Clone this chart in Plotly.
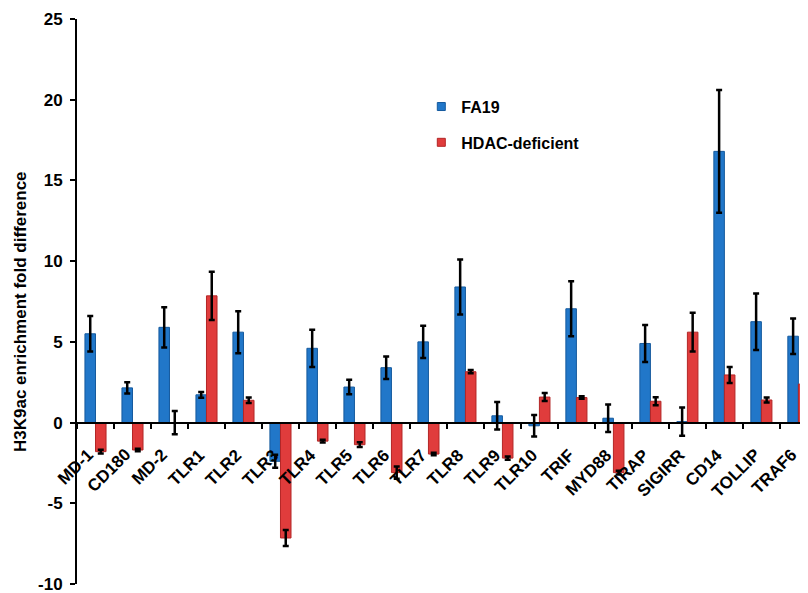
import plotly.graph_objects as go

categories = ["MD-1", "CD180", "MD-2", "TLR1", "TLR2", "TLR3", "TLR4", "TLR5", "TLR6", "TLR7",
              "TLR8", "TLR9", "TLR10", "TRIF", "MYD88", "TIRAP", "SIGIRR", "CD14", "TOLLIP", "TRAF6"]
fa19 = [5.5, 2.15, 5.9, 1.72, 5.6, -2.4, 4.6, 2.2, 3.4, 5.0,
        8.4, 0.42, -0.2, 7.05, 0.27, 4.9, 0.06, 16.8, 6.25, 5.35]
fa19_err = [1.1, 0.35, 1.25, 0.18, 1.3, 0.4, 1.15, 0.45, 0.7, 1.0,
            1.7, 0.85, 0.67, 1.7, 0.85, 1.15, 0.87, 3.8, 1.75, 1.1]
hdac = [-1.8, -1.7, 0.0, 7.85, 1.38, -7.15, -1.15, -1.37, -3.1, -1.95,
        3.15, -2.2, 1.58, 1.55, -3.1, 1.32, 5.6, 2.95, 1.4, 2.38]
hdac_err = [0.12, 0.08, 0.72, 1.5, 0.17, 0.5, 0.08, 0.15, 0.38, 0.08,
            0.1, 0.1, 0.25, 0.08, 0.12, 0.25, 1.2, 0.5, 0.15, 0.4]
series_names = ["FA19", "HDAC-deficient"]
y_ticks = [-10, -5, 0, 5, 10, 15, 20, 25]
y_tick_labels = ["-10", "-5", "0", "5", "10", "15", "20", "25"]
y_range = [-10, 25]
y_title = "H3K9ac enrichment fold difference"

FONT = "Liberation Sans, Arial, sans-serif"
BLUE, BLUE_EDGE = "#2177C9", "#155A9E"
RED, RED_EDGE = "#E03C3C", "#B32626"

fig = go.Figure()
fig.add_trace(go.Bar(
    x=categories, y=fa19, name=series_names[0], showlegend=False,
    marker=dict(color=BLUE, line=dict(color=BLUE_EDGE, width=1)),
    error_y=dict(type="data", array=fa19_err, color="black", thickness=2.5, width=3),
))
fig.add_trace(go.Bar(
    x=categories, y=hdac, name=series_names[1], showlegend=False,
    marker=dict(color=RED, line=dict(color=RED_EDGE, width=1)),
    error_y=dict(type="data", array=hdac_err, color="black", thickness=2.5, width=3),
))
# legend entries with small square swatches
for nm, col, edge, grp in [(series_names[0], BLUE, BLUE_EDGE, "a"), (series_names[1], RED, RED_EDGE, "b")]:
    fig.add_trace(go.Scatter(
        x=[None], y=[None], mode="markers", name=nm, legendgroup=grp,
        marker=dict(symbol="square", size=8, color=col, line=dict(color=edge, width=1)),
    ))

zero_pos = (0 - y_range[0]) / (y_range[1] - y_range[0])

# rotated category labels hanging below the zero line
label_font = dict(family=FONT, size=17, color="black", weight="bold")
annotations = [dict(
    text=c, x=c, y=0, xref="x", yref="y", showarrow=False, textangle=-45,
    xanchor="right", yanchor="top", xshift=5, yshift=-20, font=label_font,
) for c in categories]
annotations.append(dict(
    text=y_title, textangle=-90, showarrow=False,
    xref="paper", yref="paper", x=(20 - 77) / 731, y=(584 - 312) / 565,
    xanchor="center", yanchor="middle", font=label_font,
))

# page body has an 8px default margin; size/margins compensate for it
fig.update_layout(
    width=800, height=585,
    margin=dict(l=69, r=0, t=11, b=9),
    plot_bgcolor="white", paper_bgcolor="white",
    barmode="group", bargap=0.43, bargroupgap=0,
    font=dict(family=FONT, size=16, color="black", weight="bold"),
    showlegend=True,
    legend=dict(x=0.471, y=0.875, xanchor="left", yanchor="top",
                traceorder="grouped", tracegroupgap=12,
                font=dict(family=FONT, size=16, color="black", weight="bold"),
                bgcolor="rgba(0,0,0,0)"),
    xaxis=dict(
        type="category", range=[-0.5, 19.26],
        anchor="free", position=zero_pos,
        showline=True, linecolor="black", linewidth=2,
        ticks="outside", ticklen=5, tickwidth=2, tickcolor="black",
        tickson="boundaries", showticklabels=False,
        showgrid=False, zeroline=False, automargin=False,
    ),
    yaxis=dict(
        range=y_range, tickvals=y_ticks, ticktext=y_tick_labels,
        showline=True, linecolor="black", linewidth=2,
        ticks="outside", ticklen=5, tickwidth=2, tickcolor="black",
        tickfont=dict(family=FONT, size=17, color="black", weight="bold"),
        ticklabelstandoff=4, ticklabeloverflow="allow",
        showgrid=False, zeroline=False, automargin=False,
    ),
    annotations=annotations,
)

fig.write_html("out.html")
